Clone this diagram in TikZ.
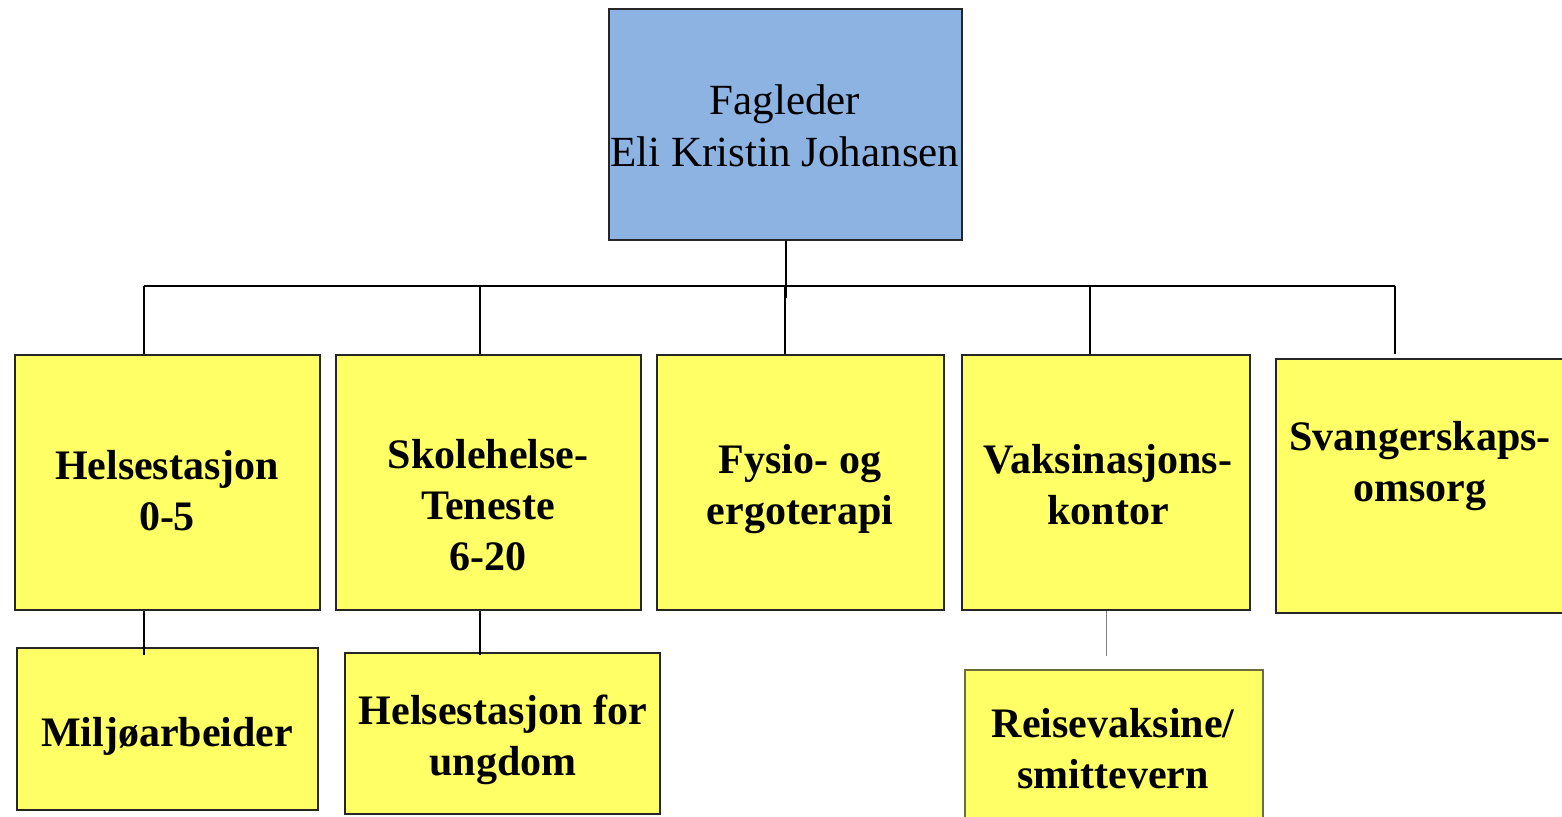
\documentclass[tikz,border=0pt]{standalone}
\usepackage{fontspec}
\setmainfont{Liberation Serif}
\usetikzlibrary{positioning}
\definecolor{headblue}{RGB}{141,179,226}
\definecolor{unityellow}{RGB}{255,255,102}
\definecolor{lineolive}{RGB}{110,110,60}

\begin{document}
\begin{tikzpicture}[x=0.5pt,y=-0.5pt,
    box/.style={draw=black!85,line width=1pt,fill=unityellow,rectangle,inner sep=0pt},
    lbl/.style={align=center,font=\fontsize{21}{25.5}\selectfont\bfseries}]
    % Page
    \useasboundingbox (0,0) rectangle (1562,817);
    \fill[white] (0,0) rectangle (1562,817);

    % Head of the unit
    \node[box,fill=headblue,minimum width=176.5pt,minimum height=115.5pt] (head) at (785.5,124.5) {};
    \node[align=center,font=\fontsize{21.5}{26}\selectfont] (headtxt) at (785,126) {Fagleder\\Eli Kristin Johansen};

    % Services
    \node[box,minimum width=152.5pt,minimum height=127.5pt] (b1) at (167.5,482.5) {};
    \node[box,minimum width=152.5pt,minimum height=127.5pt] (b2) at (488.5,482.5) {};
    \node[box,minimum width=143.5pt,minimum height=127.5pt] (b3) at (800.5,482.5) {};
    \node[box,minimum width=144pt,minimum height=127.5pt] (b4) at (1106,482.5) {};
    \node[box,minimum width=144pt,minimum height=127pt] (b5) at (1420,486) {};

    \node[lbl] (t1) at (167,491) {Helsestasjon\\0-5};
    \node[lbl] (t2) at (488,505) {Skolehelse-\\Teneste\\6-20};
    \node[lbl] (t3) at (800,489) {Fysio- og\\ergoterapi};
    \node[lbl] (t4) at (1108,485) {Vaksinasjons-\\kontor};
    \node[lbl] (t5) at (1420,466) {Svangerskaps-\\omsorg};

    % Sub units
    \node[box,minimum width=150.5pt,minimum height=81pt] (l1) at (167.5,729) {};
    \node[box,minimum width=157.5pt,minimum height=80.5pt] (l2) at (502.5,733.5) {};
    \node[box,draw=lineolive,line width=0.6pt,minimum width=149pt,minimum height=80.5pt] (l3) at (1114,750.5) {};

    \node[lbl] (u1) at (167,736) {Milj\o arbeider};
    \node[lbl] (u2) at (503,740) {Helsestasjon for\\ungdom};
    \node[lbl] (u3) at (1113,749) {Reisevaksine/\\smittevern};

    % Connectors
    \coordinate (j1) at (144,286);
    \coordinate (j2) at (480,286);
    \coordinate (j3) at (785,286);
    \coordinate (j4) at (1090,286);
    \coordinate (j5) at (1395,286);

    \draw[line width=1pt] (j1) -- (j5);
    \draw[line width=1pt] (head.south) -- ([yshift=-6pt]head.south |- j3);
    \draw[line width=1pt] (j1) -- (j1 |- b1.north);
    \draw[line width=1pt] (j2) -- (j2 |- b2.north);
    \draw[line width=1pt] (j3) -- (j3 |- b3.north);
    \draw[line width=1pt] (j4) -- (j4 |- b4.north);
    \draw[line width=1pt] (j5) -- (j5 |- b4.north);

    \draw[line width=1pt] (j1 |- b1.south) -- ([yshift=-4pt]j1 |- l1.north);
    \draw[line width=1pt] (j2 |- b2.south) -- ([yshift=-1.5pt]j2 |- l2.north);
    \draw[gray,line width=0.5pt] (b4.south) -- ([yshift=6.5pt]l3.north -| b4.south);
\end{tikzpicture}
\end{document}
